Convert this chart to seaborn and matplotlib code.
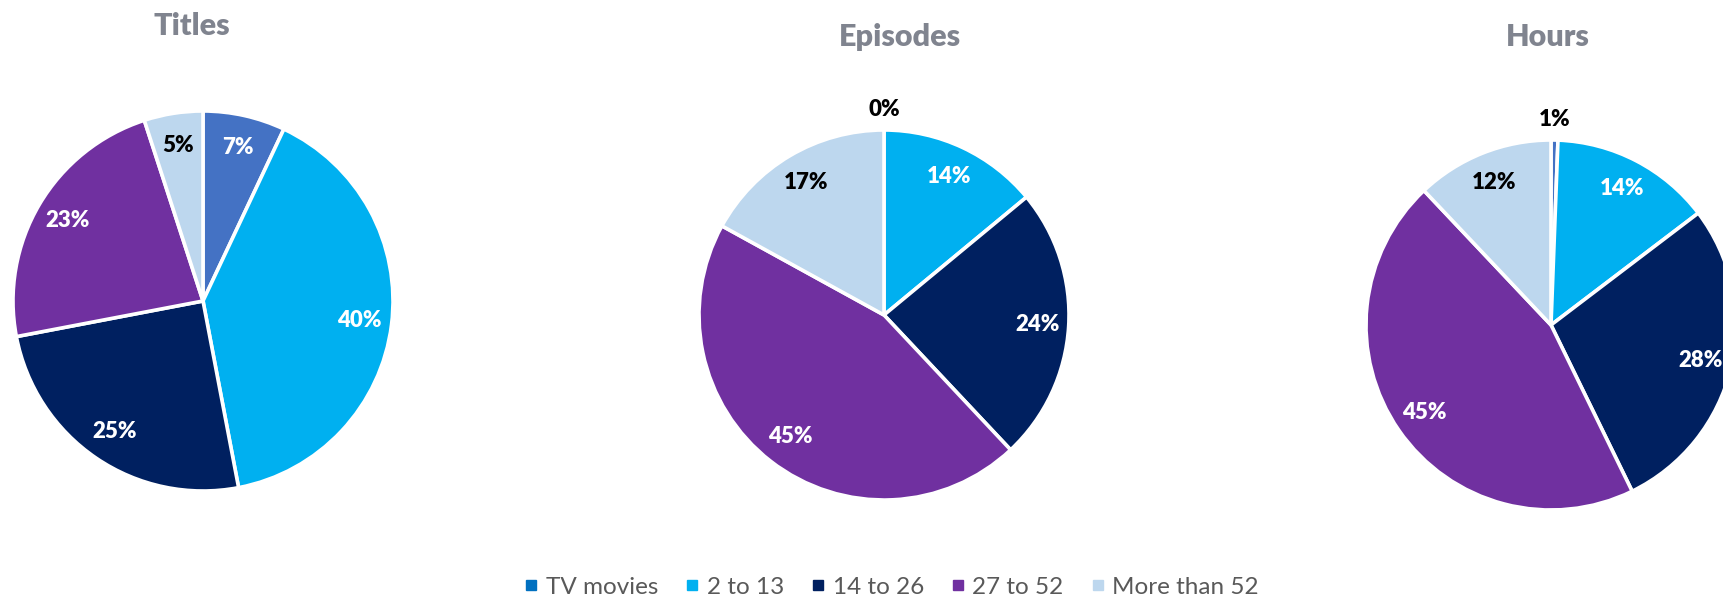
import numpy as np
import pandas as pd
import seaborn as sns
import matplotlib.pyplot as plt
from matplotlib.lines import Line2D

# data (percent of total)
categories = ['TV movies', '2 to 13', '14 to 26', '27 to 52', 'More than 52']
titles_pct = [7, 40, 25, 23, 5]
episodes_pct = [0, 14, 24, 45, 17]
hours_pct = [0.6, 14, 28, 45, 12]
chart_names = ['Titles', 'Episodes', 'Hours']

slice_colors = sns.color_palette(['#4472C4', '#00B0F0', '#002060', '#7030A0', '#BDD7EE'])
legend_colors = ['#0070C0', '#00B0F0', '#002060', '#7030A0', '#BDD7EE']

sns.set_theme(style='white')
plt.rcParams['font.family'] = ['Lato', 'DejaVu Sans']

W, H = 1723, 599
fig = plt.figure(figsize=(W / 100, H / 100), dpi=100)

# pie centre x, centre y (from top), radius, title x, title y -- in pixels
layout = [
    (203, 301, 190, 192, 26),
    (884, 315, 185, 900, 37),
    (1551, 325, 185, 1548, 37),
]

for vals, name, (cx, cy, r, tx, ty) in zip([titles_pct, episodes_pct, hours_pct], chart_names, layout):
    ax = fig.add_axes([(cx - r) / W, (H - cy - r) / H, 2 * r / W, 2 * r / H])
    wedges, texts, autotexts = ax.pie(vals, colors=slice_colors, startangle=90, counterclock=False,
                                      autopct='%.0f%%', pctdistance=0.83,
                                      wedgeprops=dict(edgecolor='white', linewidth=2.6))
    ax.set_xlim(-1, 1)
    ax.set_ylim(-1, 1)
    ax.axis('off')
    for i, t in enumerate(autotexts):
        t.set_fontsize(16)
        t.set_fontweight('heavy')
        if vals[i] < 2:
            # tiny slice: label goes outside
            x, y = t.get_position()
            t.set_position((x / 0.83 * 1.11, y / 0.83 * 1.11))
            t.set_color('black')
        elif i == 4:
            t.set_color('black')
        else:
            t.set_color('white')
    fig.text(tx / W, 1 - ty / H, name, ha='center', va='center',
             fontsize=22, fontweight='heavy', color='#80848F')

handles = [Line2D([], [], marker='s', linestyle='none', markersize=7,
                  markerfacecolor=c, markeredgecolor=c) for c in legend_colors]
leg = fig.legend(handles, categories, loc='center', bbox_to_anchor=(889 / W, 12 / H),
                 ncol=5, frameon=False, fontsize=17.5, handletextpad=0.1,
                 columnspacing=0.9, handlelength=1.0, borderpad=0)
for t in leg.get_texts():
    t.set_color('#595959')

plt.savefig('out.png', dpi=100)
